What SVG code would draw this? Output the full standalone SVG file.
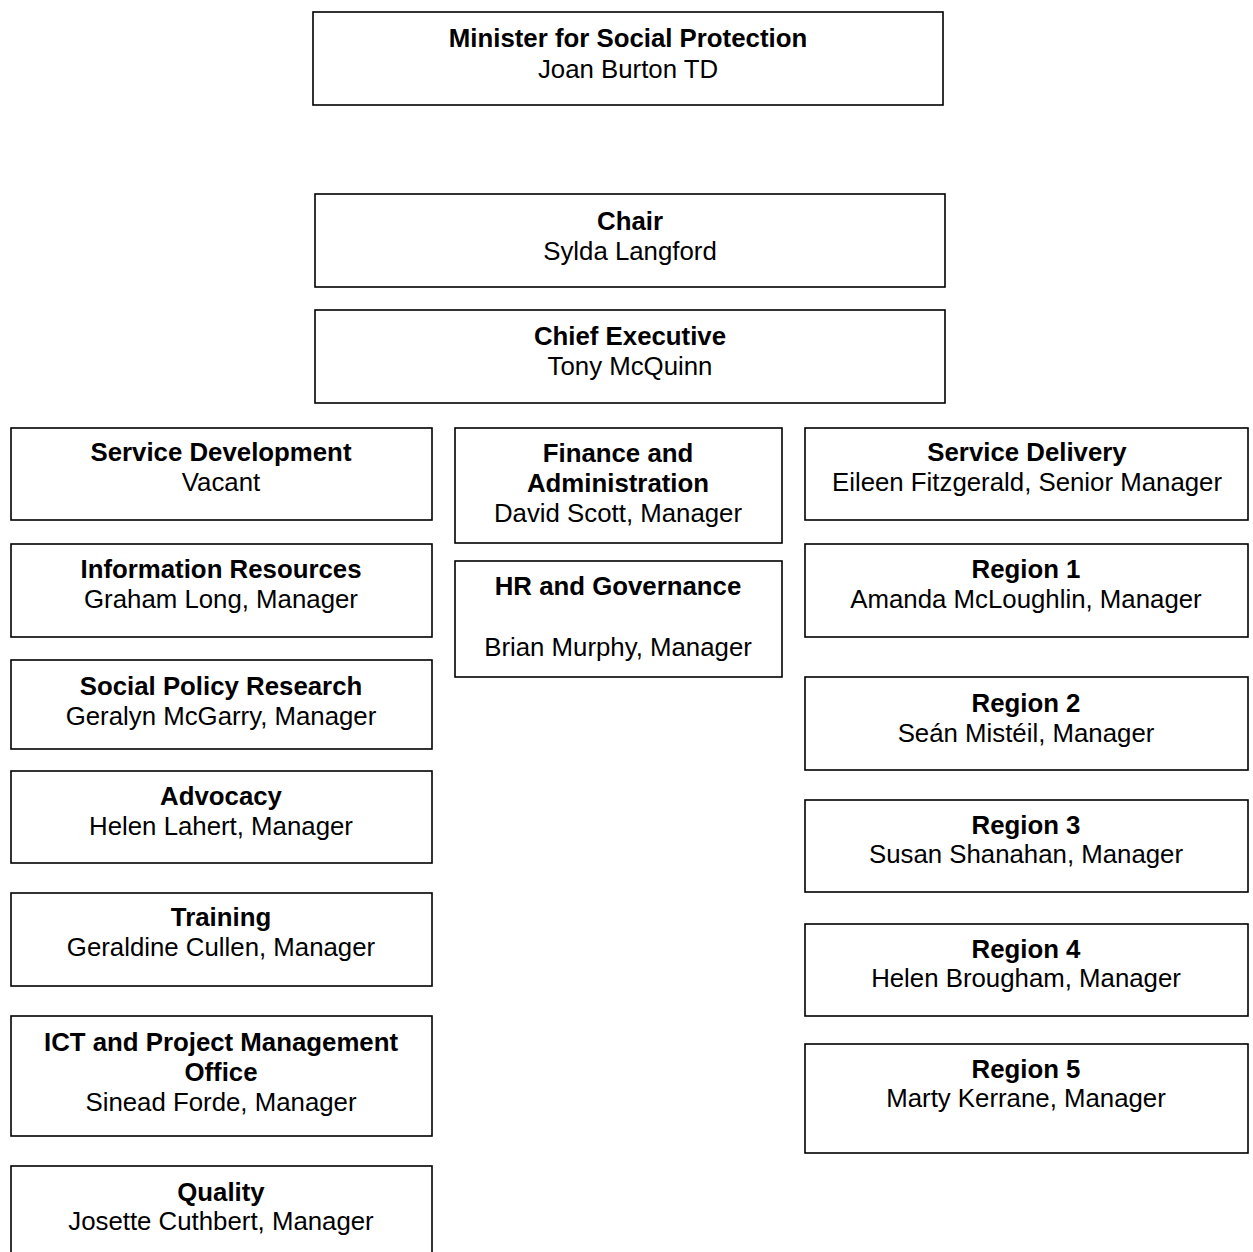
<svg xmlns="http://www.w3.org/2000/svg" width="1253" height="1252" viewBox="0 0 1253 1252">
<style>
rect.box{fill:#fff;stroke:#000;stroke-width:1.6}
text{font-family:"Liberation Sans",Arial,sans-serif;font-size:25.8px;fill:#000;text-anchor:middle}
text.b{font-weight:bold}
</style>
<rect width="1253" height="1252" fill="#fff"/>
<g id="connectors"></g>
<g id="minister"><rect class="box" x="313" y="12" width="630" height="93"/><text class="b" x="628" y="47">Minister for Social Protection</text><text x="628" y="78">Joan Burton TD</text></g>
<g id="chair"><rect class="box" x="315" y="194" width="630" height="93"/><text class="b" x="630" y="230">Chair</text><text x="630" y="260">Sylda Langford</text></g>
<g id="ceo"><rect class="box" x="315" y="310" width="630" height="93"/><text class="b" x="630" y="345">Chief Executive</text><text x="630" y="375">Tony McQuinn</text></g>
<g id="service-development"><rect class="box" x="11" y="428" width="421" height="92"/><text class="b" x="221" y="461">Service Development</text><text x="221" y="491">Vacant</text></g>
<g id="information-resources"><rect class="box" x="11" y="544" width="421" height="93"/><text class="b" x="221" y="578">Information Resources</text><text x="221" y="608">Graham Long, Manager</text></g>
<g id="social-policy-research"><rect class="box" x="11" y="660" width="421" height="89"/><text class="b" x="221" y="695">Social Policy Research</text><text x="221" y="725">Geralyn McGarry, Manager</text></g>
<g id="advocacy"><rect class="box" x="11" y="771" width="421" height="92"/><text class="b" x="221" y="805">Advocacy</text><text x="221" y="835">Helen Lahert, Manager</text></g>
<g id="training"><rect class="box" x="11" y="893" width="421" height="93"/><text class="b" x="221" y="926">Training</text><text x="221" y="956">Geraldine Cullen, Manager</text></g>
<g id="ict"><rect class="box" x="11" y="1016" width="421" height="120"/><text class="b" x="221" y="1051">ICT and Project Management</text><text class="b" x="221" y="1081">Office</text><text x="221" y="1111">Sinead Forde, Manager</text></g>
<g id="quality"><rect class="box" x="11" y="1166" width="421" height="100"/><text class="b" x="221" y="1201">Quality</text><text x="221" y="1230">Josette Cuthbert, Manager</text></g>
<g id="finance"><rect class="box" x="455" y="428" width="327" height="115"/><text class="b" x="618" y="462">Finance and</text><text class="b" x="618" y="492">Administration</text><text x="618" y="522">David Scott, Manager</text></g>
<g id="hr"><rect class="box" x="455" y="561" width="327" height="116"/><text class="b" x="618" y="595">HR and Governance</text><text x="618" y="656">Brian Murphy, Manager</text></g>
<g id="service-delivery"><rect class="box" x="805" y="428" width="443" height="92"/><text class="b" x="1027" y="461">Service Delivery</text><text x="1027" y="491">Eileen Fitzgerald, Senior Manager</text></g>
<g id="region1"><rect class="box" x="805" y="544" width="443" height="93"/><text class="b" x="1026" y="578">Region 1</text><text x="1026" y="608">Amanda McLoughlin, Manager</text></g>
<g id="region2"><rect class="box" x="805" y="677" width="443" height="93"/><text class="b" x="1026" y="712">Region 2</text><text x="1026" y="742">Seán Mistéil, Manager</text></g>
<g id="region3"><rect class="box" x="805" y="800" width="443" height="92"/><text class="b" x="1026" y="834">Region 3</text><text x="1026" y="863">Susan Shanahan, Manager</text></g>
<g id="region4"><rect class="box" x="805" y="924" width="443" height="92"/><text class="b" x="1026" y="958">Region 4</text><text x="1026" y="987">Helen Brougham, Manager</text></g>
<g id="region5"><rect class="box" x="805" y="1044" width="443" height="109"/><text class="b" x="1026" y="1078">Region 5</text><text x="1026" y="1107">Marty Kerrane, Manager</text></g>
</svg>
